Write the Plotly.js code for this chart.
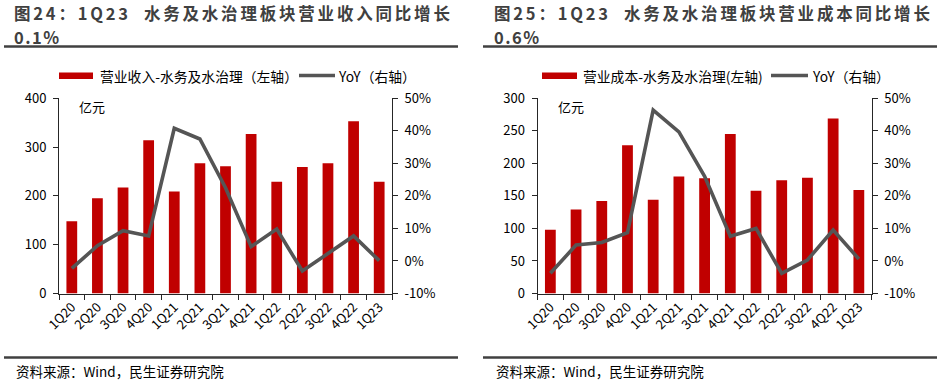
<!DOCTYPE html>
<html>
<head>
<meta charset="utf-8">
<script src="https://cdn.plot.ly/plotly-3.0.1.min.js"></script>
<style>html,body{margin:0;padding:0;background:#fff;}#chart{width:948px;height:387px;}</style>
</head>
<body>
<div id="chart"></div>
<script>
// ---- data ----
const quarters = ["1Q20","2Q20","3Q20","4Q20","1Q21","2Q21","3Q21","4Q21","1Q22","2Q22","3Q22","4Q22","1Q23"];
const revenue = [148,195,217,314,209,267,261,327,229,259,267,353,229];
const revenueYoY = [-2.3,4.7,9.3,7.7,40.8,37.5,22.5,4.4,9.8,-3.1,2.3,7.7,0.1];
const cost = [98,129,142,228,144,180,177,245,158,174,178,269,159];
const costYoY = [-3.8,4.9,5.7,8.7,46.4,39.7,26.0,7.6,10.0,-3.8,0.3,9.5,0.6];
const leftTicksRev = [0,100,200,300,400];
const leftTicksCost = [0,50,100,150,200,250,300];
const pctTickVals = [-10,0,10,20,30,40,50];
const pctTickText = ["-10%","0%","10%","20%","30%","40%","50%"];
const titles = ["图24：1Q23  水务及水治理板块营业收入同比增长", "图25：1Q23  水务及水治理板块营业成本同比增长"];
const titles2 = ["0.1%", "0.6%"];
const barNames = ["营业收入-水务及水治理（左轴）", "营业成本-水务及水治理(左轴)"];
const lineName = "YoY（右轴）";
const unitLabel = "亿元";
const sourceText = "资料来源：Wind，民生证券研究院";

// ---- layout helpers ----
const W = 948, H = 387;
const px = x => x / W;
const py = y => 1 - y / H;
const FONT = "'Noto Sans CJK SC', 'Noto Sans', sans-serif";
const RED = "#C00000";
const GREY = "#555555";
const AX = "#262626";

const yDom = [py(293.5), py(98.3)];
const panels = [
  {x0: 59, x1: 392, left: 4, right: 458, text: 14},
  {x0: 537.5, x1: 871.7, left: 483, right: 937, text: 494}
];

const traces = [
  {type:"bar", x:quarters, y:revenue, xaxis:"x", yaxis:"y", marker:{color:RED}, width:0.42, showlegend:false, name:barNames[0]},
  {type:"scatter", mode:"lines", x:quarters, y:revenueYoY, xaxis:"x", yaxis:"y2", line:{color:GREY, width:3.6}, showlegend:false, name:lineName},
  {type:"bar", x:quarters, y:cost, xaxis:"x2", yaxis:"y3", marker:{color:RED}, width:0.42, showlegend:false, name:barNames[1]},
  {type:"scatter", mode:"lines", x:quarters, y:costYoY, xaxis:"x2", yaxis:"y4", line:{color:GREY, width:3.6}, showlegend:false, name:lineName}
];

function xAxis(p, anchor){
  return {domain:[px(p.x0), px(p.x1)], anchor:anchor, type:"category", range:[-0.5,12.5],
    showline:true, linecolor:AX, linewidth:1, ticks:"outside", ticklen:5, tickcolor:AX, tickson:"boundaries",
    tickangle:-45, tickfont:{size:13, color:"#000", family:FONT}, showgrid:false, zeroline:false, fixedrange:true};
}
function yLeft(anchor, range, vals){
  return {domain:yDom, anchor:anchor, range:range, tickvals:vals, ticktext:vals.map(String),
    showline:true, linecolor:AX, linewidth:1, ticks:"outside", ticklen:5, tickcolor:AX, ticklabelstandoff:4,
    tickfont:{size:13, color:"#000", family:FONT}, showgrid:false, zeroline:false};
}
function yRight(overlay, anchor){
  return {overlaying:overlay, anchor:anchor, side:"right", range:[-10,50], tickvals:pctTickVals, ticktext:pctTickText,
    showline:true, linecolor:AX, linewidth:1, ticks:"outside", ticklen:5, tickcolor:AX, ticklabelstandoff:4,
    tickfont:{size:13, color:"#000", family:FONT}, showgrid:false, zeroline:false};
}

const shapes = [];
const annotations = [];
const spacing = {};   // annotation index -> [letter spacing, left edge px]
const legendX = [
  {box:[59,93], txt:98, line:[299,335], ltxt:336},
  {box:[542,577], txt:581, line:[771,808], ltxt:810}
];
panels.forEach((p,i)=>{
  // rules
  shapes.push({type:"line", xref:"paper", yref:"paper", x0:px(p.left), x1:px(p.right), y0:py(46.5), y1:py(46.5), line:{color:"#404040", width:2.5}});
  shapes.push({type:"line", xref:"paper", yref:"paper", x0:px(p.left), x1:px(p.right), y0:py(357.5), y1:py(357.5), line:{color:"#404040", width:2.5}});
  // title line 1
  spacing[annotations.length] = [2.8, p.text];
  annotations.push({xref:"paper", yref:"paper", x:px(p.text), y:py(13.5), xanchor:"left", yanchor:"middle", showarrow:false,
    text:"<b>"+titles[i]+"</b>", font:{size:16.5, color:"#404040", family:FONT}});
  // title line 2
  spacing[annotations.length] = [1.5, p.text];
  annotations.push({xref:"paper", yref:"paper", x:px(p.text), y:py(37.5), xanchor:"left", yanchor:"middle", showarrow:false,
    text:"<b>"+titles2[i]+"</b>", font:{size:16.5, color:"#404040", family:FONT}});
  // source
  annotations.push({xref:"paper", yref:"paper", x:px(p.text), y:py(371), xanchor:"left", yanchor:"middle", showarrow:false,
    text:sourceText, font:{size:13.5, color:"#000", family:FONT}});
  // unit
  annotations.push({xref:"paper", yref:"paper", x:px(p.x0+18), y:py(107), xanchor:"left", yanchor:"middle", showarrow:false,
    text:unitLabel, font:{size:13, color:"#000", family:FONT}});
  // legend
  const L = legendX[i];
  shapes.push({type:"rect", xref:"paper", yref:"paper", x0:px(L.box[0]), x1:px(L.box[1]), y0:py(79), y1:py(72.5), fillcolor:RED, line:{width:0}});
  annotations.push({xref:"paper", yref:"paper", x:px(L.txt), y:py(75.5), xanchor:"left", yanchor:"middle", showarrow:false,
    text:barNames[i], font:{size:13.8, color:"#000", family:FONT}});
  shapes.push({type:"line", xref:"paper", yref:"paper", x0:px(L.line[0]), x1:px(L.line[1]), y0:py(75.5), y1:py(75.5), line:{color:GREY, width:3.6}});
  annotations.push({xref:"paper", yref:"paper", x:px(L.ltxt), y:py(75.5), xanchor:"left", yanchor:"middle", showarrow:false,
    text:lineName, font:{size:13.8, color:"#000", family:FONT}});
});

const layout = {
  width:W, height:H, margin:{l:0,r:0,t:0,b:0}, paper_bgcolor:"#fff", plot_bgcolor:"#fff",
  font:{family:FONT, color:"#000"}, showlegend:false, bargap:0.58,
  xaxis:xAxis(panels[0],"y"),
  yaxis:yLeft("x",[0,400],leftTicksRev),
  yaxis2:yRight("y","x"),
  xaxis2:xAxis(panels[1],"y3"),
  yaxis3:yLeft("x2",[0,300],leftTicksCost),
  yaxis4:yRight("y3","x2"),
  shapes:shapes, annotations:annotations
};
Plotly.newPlot("chart", traces, layout, {displayModeBar:false, staticPlot:true}).then(gd=>{
  // the reference titles are set with extra spacing between glyphs; re-anchor their left edge afterwards
  const host = gd.getBoundingClientRect();
  gd.querySelectorAll("g.annotation").forEach(g=>{
    const s = spacing[+g.getAttribute("data-index")];
    if (!s) return;
    g.querySelectorAll("text").forEach(t=>{
      t.style.letterSpacing = s[0] + "px";
      const r = t.getBoundingClientRect();
      const dx = (host.left + s[1]) - r.left;
      const prev = t.getAttribute("transform") || "";
      t.setAttribute("transform", "translate(" + dx + ",0) " + prev);
    });
  });
});
</script>
</body>
</html>
